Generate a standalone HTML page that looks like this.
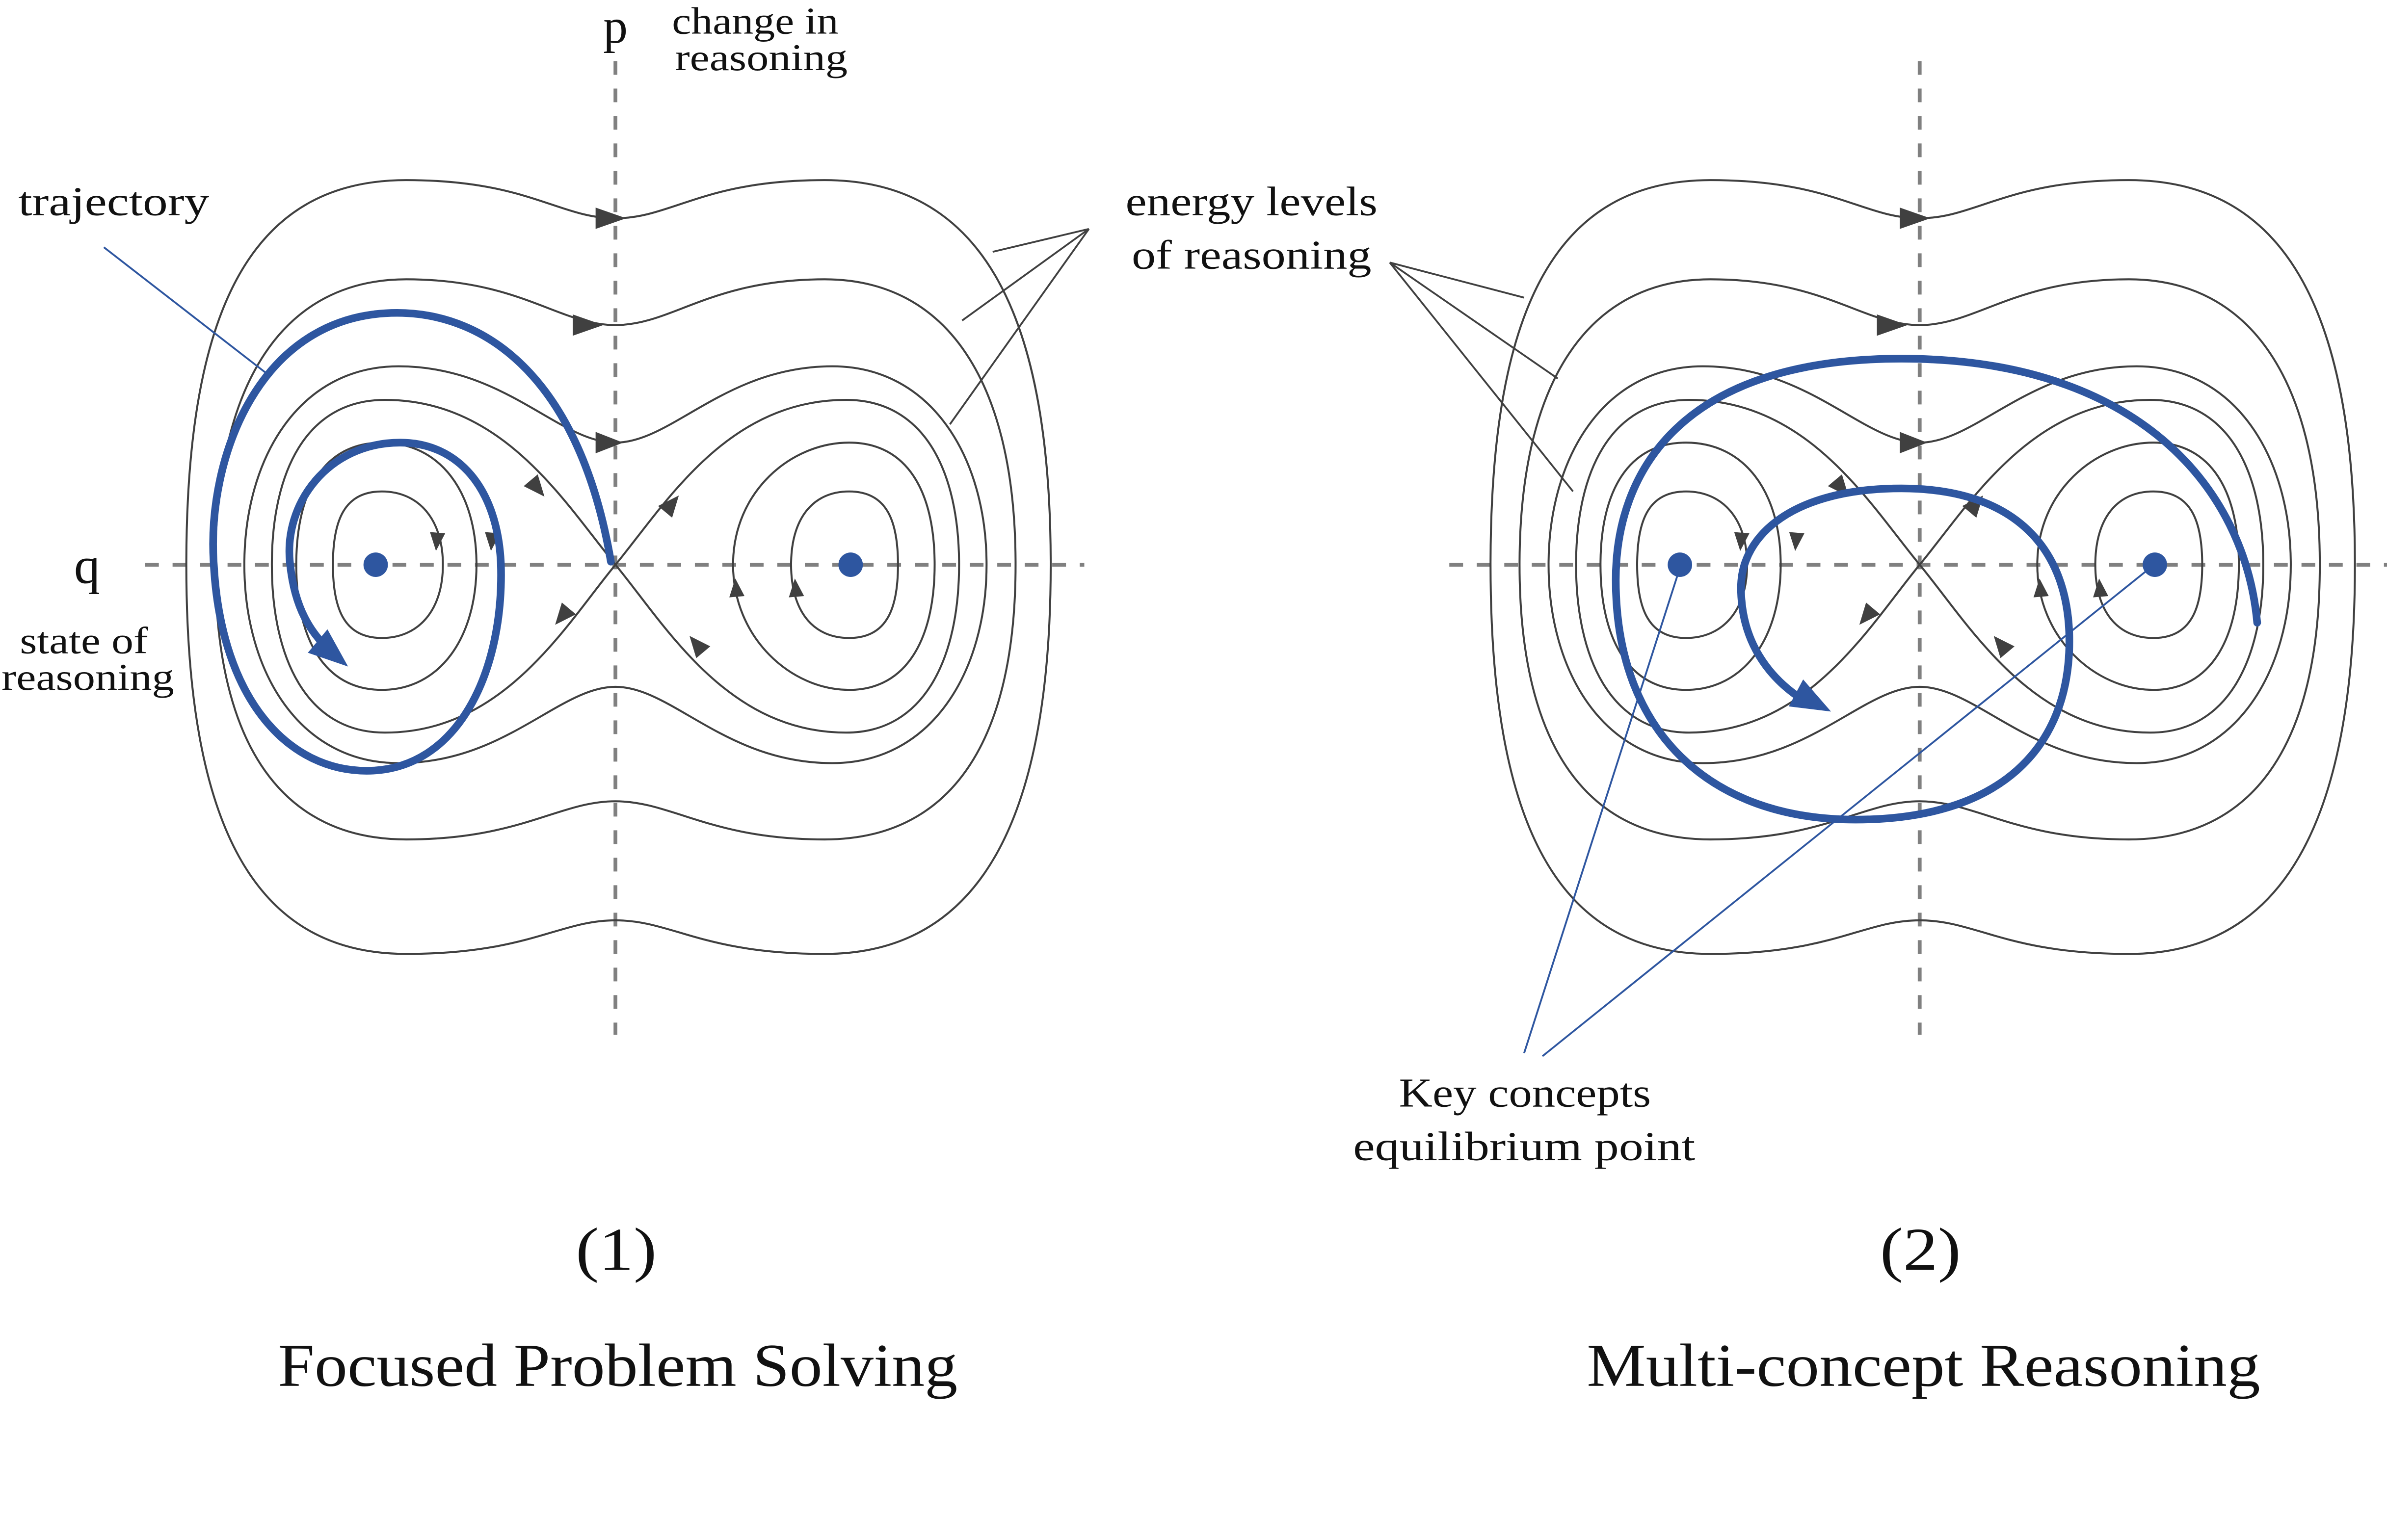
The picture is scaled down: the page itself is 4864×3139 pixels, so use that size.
<!DOCTYPE html>
<html><head><meta charset="utf-8"><style>html,body{margin:0;padding:0;background:#fff}svg{display:block}</style></head>
<body>
<svg xmlns="http://www.w3.org/2000/svg" width="4864" height="3139" viewBox="0 0 1563 1009" preserveAspectRatio="none">
<defs>
<g id="dia">
  <line x1="403" y1="40" x2="403" y2="678" stroke="#808080" stroke-width="2.5" stroke-dasharray="9,9"/>
  <line x1="95" y1="370" x2="710" y2="370" stroke="#808080" stroke-width="2.5" stroke-dasharray="9,9"/>
  <g fill="none" stroke="#404040" stroke-width="1.3">
    <path d="M403,143 C440,143 460,118 540,118 C640,118 688,200 688,370 C688,540 640,625 540,625 C460,625 440,603 403,603 C366,603 346,625 266,625 C166,625 122,540 122,370 C122,200 166,118 266,118 C346,118 366,143 403,143 Z"/>
    <path d="M403,213 C440,213 465,183 540,183 C620,183 665,250 665,370 C665,490 620,550 540,550 C465,550 440,525 403,525 C366,525 341,550 266,550 C186,550 141,490 141,370 C141,250 186,183 266,183 C341,183 366,213 403,213 Z"/>
    <path d="M403,290 C440,290 475,240 545,240 C610,240 646,300 646,370 C646,440 610,500 545,500 C475,500 440,450 403,450 C366,450 331,500 261,500 C196,500 160,440 160,370 C160,300 196,240 261,240 C331,240 366,290 403,290 Z"/>
    <path d="M403,370 C370,330 330,262 252,262 C200,262 178,310 178,370 C178,430 200,480 252,480 C330,480 370,410 403,370 C436,330 476,262 554,262 C606,262 628,310 628,370 C628,430 606,480 554,480 C476,480 436,410 403,370 Z"/>
    <path d="M250,290 C288,290 312,322 312,370 C312,418 288,452 250,452 C212,452 194,418 194,370 C194,322 212,290 250,290 Z"/>
    <path d="M250,322 C274,322 290,340 290,370 C290,400 274,418 250,418 C226,418 218,400 218,370 C218,340 226,322 250,322 Z"/>
    <path d="M556,290 C594,290 612,322 612,370 C612,418 594,452 556,452 C518,452 480,418 480,370 C480,322 518,290 556,290 Z"/>
    <path d="M556,322 C580,322 588,340 588,370 C588,400 580,418 556,418 C532,418 518,400 518,370 C518,340 532,322 556,322 Z"/>
  </g>
  <g fill="#404040">
    <polygon points="390,136 410,143 390,150"/>
    <polygon points="375,206 395,213 375,220"/>
    <polygon points="390,283 408,290 390,297"/>
    <polygon points="-7,-6 7,0 -7,6" transform="translate(352,320) rotate(50)"/>
    <polygon points="-7,-6 7,0 -7,6" transform="translate(368,404) rotate(130)"/>
    <polygon points="-7,-6 7,0 -7,6" transform="translate(440,330) rotate(-50)"/>
    <polygon points="-7,-6 7,0 -7,6" transform="translate(456,422) rotate(-130)"/>
    <polygon points="-6,-5 6,0 -6,5" transform="translate(286,355) rotate(95)"/>
    <polygon points="-6,-5 6,0 -6,5" transform="translate(322,355) rotate(95)"/>
    <polygon points="-6,-5 6,0 -6,5" transform="translate(482,385) rotate(-95)"/>
    <polygon points="-6,-5 6,0 -6,5" transform="translate(521,385) rotate(-95)"/>
  </g>
  <circle cx="246" cy="370" r="8" fill="#2e56a0"/>
  <circle cx="557" cy="370" r="8" fill="#2e56a0"/>
</g>
</defs>
<use href="#dia"/>
<use href="#dia" transform="translate(854,0)"/>
<g fill="none" stroke="#2e56a0" stroke-width="5" stroke-linecap="round">
  <path d="M400,368 C380,250 320,205 260,205 C170,205 135,300 140,370 C145,460 190,505 240,505 C300,505 330,440 328,370 C326,320 300,290 262,290 C215,290 185,330 190,370 C193,398 203,415 218,428"/>
  <path d="M1478,408 C1470,320 1400,235 1245,235 C1100,235 1058,310 1058,380 C1058,480 1120,537 1215,537 C1310,537 1355,490 1355,420 C1355,360 1320,320 1245,320 C1175,320 1140,350 1140,385 C1140,420 1158,445 1183,460"/>
</g>
<g fill="#2e56a0">
  <polygon points="0,-10 26,0 0,10" transform="translate(208,420) rotate(40)"/>
  <polygon points="0,-10 26,0 0,10" transform="translate(1176,454) rotate(28)"/>
</g>
<g stroke="#2e56a0" stroke-width="1.2">
  <line x1="68" y1="162" x2="175" y2="245"/>
  <line x1="998" y1="690" x2="1100" y2="372"/>
  <line x1="1010" y1="692" x2="1408" y2="372"/>
</g>
<g stroke="#404040" stroke-width="1.2">
  <line x1="713" y1="150" x2="650" y2="165"/>
  <line x1="713" y1="150" x2="630" y2="210"/>
  <line x1="713" y1="150" x2="622" y2="278"/>
  <line x1="910" y1="172" x2="998" y2="195"/>
  <line x1="910" y1="172" x2="1020" y2="248"/>
  <line x1="910" y1="172" x2="1030" y2="322"/>
</g>
<g font-family="Liberation Serif, serif" fill="#111">
  <text x="403" y="28" font-size="32" text-anchor="middle">p</text>
  <text x="440" y="22" font-size="25" textLength="109" lengthAdjust="spacingAndGlyphs">change in</text>
  <text x="442" y="46" font-size="25" textLength="113" lengthAdjust="spacingAndGlyphs">reasoning</text>
  <text x="57" y="382" font-size="34" text-anchor="middle">q</text>
  <text x="13" y="428" font-size="25" textLength="84" lengthAdjust="spacingAndGlyphs">state of</text>
  <text x="1" y="452" font-size="25" textLength="113" lengthAdjust="spacingAndGlyphs">reasoning</text>
  <text x="12" y="141" font-size="27" textLength="125" lengthAdjust="spacingAndGlyphs">trajectory</text>
  <text x="737" y="141" font-size="27" textLength="165" lengthAdjust="spacingAndGlyphs">energy levels</text>
  <text x="741" y="176" font-size="27" textLength="157" lengthAdjust="spacingAndGlyphs">of reasoning</text>
  <text x="916" y="725" font-size="27" textLength="165" lengthAdjust="spacingAndGlyphs">Key concepts</text>
  <text x="886" y="760" font-size="27" textLength="224" lengthAdjust="spacingAndGlyphs">equilibrium point</text>
  <text x="377" y="832" font-size="40" textLength="53" lengthAdjust="spacingAndGlyphs">(1)</text>
  <text x="1231" y="832" font-size="40" textLength="53" lengthAdjust="spacingAndGlyphs">(2)</text>
  <text x="182" y="908" font-size="40" textLength="445" lengthAdjust="spacingAndGlyphs">Focused Problem Solving</text>
  <text x="1039" y="908" font-size="40" textLength="441" lengthAdjust="spacingAndGlyphs">Multi-concept Reasoning</text>
</g>
</svg>
</body></html>
